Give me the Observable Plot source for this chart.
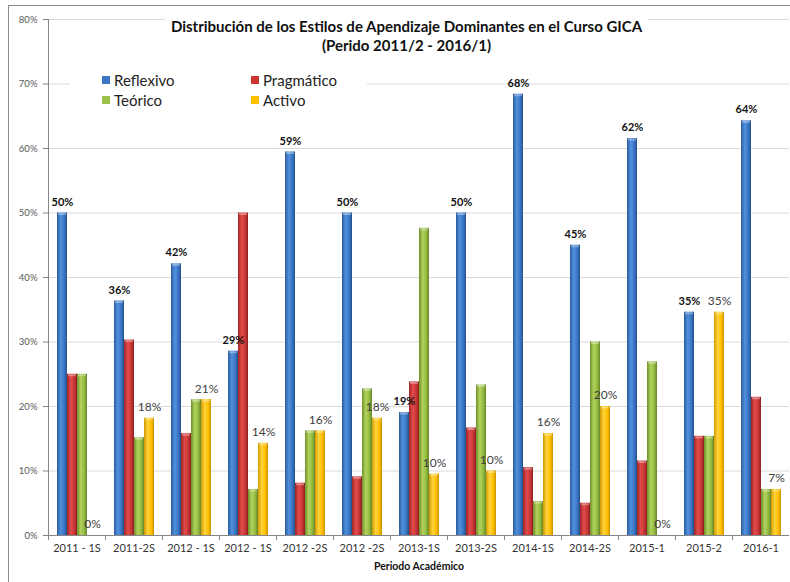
<!DOCTYPE html>
<html>
<head>
<meta charset="utf-8">
<script src="https://cdn.jsdelivr.net/npm/d3@7"></script>
<script src="https://cdn.jsdelivr.net/npm/@observablehq/plot@0.6"></script>
<style>
  body { margin: 0; background: #fff; font-family: Lato, "Noto Sans", sans-serif; }
  #wrap { position: relative; width: 790px; height: 582px; overflow: hidden; }
  #chart { position: absolute; left: 0; top: 0; }
  #border { position: absolute; left: 8px; top: 5px; width: 900px; height: 700px;
            border-top: 1.5px solid #8c8c8c; border-left: 1.5px solid #8c8c8c; }
  #title { position: absolute; left: 165px; top: 17px; width: 483px; background: #fff;
           text-align: center; font-weight: bold; font-size: 15px; line-height: 19px; color: #111; }
  #legend { position: absolute; left: 70px; top: 68px; width: 297px; height: 44px; background: #fff;
            font-size: 15px; color: #222; }
  .item { position: absolute; display: flex; align-items: center; height: 20px; }
  .sw { width: 8px; height: 8px; margin-right: 4px; }
</style>
</head>
<body>
<svg width="0" height="0" style="position:absolute">
  <defs>
    <linearGradient id="gBlue" x1="0" x2="1" y1="0" y2="0">
      <stop offset="0" stop-color="#2a5a9c"/><stop offset="0.38" stop-color="#5291de"/>
      <stop offset="0.72" stop-color="#3a76c4"/><stop offset="1" stop-color="#23508c"/>
    </linearGradient>
    <linearGradient id="gRed" x1="0" x2="1" y1="0" y2="0">
      <stop offset="0" stop-color="#9e2424"/><stop offset="0.38" stop-color="#e24c4c"/>
      <stop offset="0.72" stop-color="#c93636"/><stop offset="1" stop-color="#8c1f1f"/>
    </linearGradient>
    <linearGradient id="gGreen" x1="0" x2="1" y1="0" y2="0">
      <stop offset="0" stop-color="#6f8f2a"/><stop offset="0.38" stop-color="#b2d35e"/>
      <stop offset="0.72" stop-color="#94bb40"/><stop offset="1" stop-color="#66852a"/>
    </linearGradient>
    <linearGradient id="gYellow" x1="0" x2="1" y1="0" y2="0">
      <stop offset="0" stop-color="#d19a00"/><stop offset="0.38" stop-color="#ffd43c"/>
      <stop offset="0.72" stop-color="#ffbf00"/><stop offset="1" stop-color="#c89200"/>
    </linearGradient>
  </defs>
</svg>
<div id="wrap">
  <div id="chart"></div>
  <div id="border"></div>
  <div id="title">Distribución de los Estilos de Apendizaje Dominantes en el Curso GICA<br>(Perido 2011/2 - 2016/1)</div>
  <div id="legend"></div>
</div>
<script>
// ---- data ----
const periods = ["2011 - 1S", "2011-2S", "2012 - 1S", "2012 - 1S", "2012 -2S", "2012 -2S",
                 "2013-1S", "2013-2S", "2014-1S", "2014-2S", "2015-1", "2015-2", "2016-1"];
const seriesNames = ["Reflexivo", "Pragmático", "Teórico", "Activo"];
const reflexivo  = [50, 36.36, 42.11, 28.57, 59.46, 50, 19.05, 50, 68.42, 45, 61.54, 34.62, 64.29];
const pragmatico = [25, 30.30, 15.79, 50, 8.11, 9.09, 23.81, 16.67, 10.53, 5, 11.54, 15.38, 21.43];
const teorico    = [25, 15.15, 21.05, 7.14, 16.22, 22.73, 47.62, 23.33, 5.26, 30, 26.92, 15.38, 7.14];
const activo     = [0, 18.18, 21.05, 14.29, 16.22, 18.18, 9.52, 10, 15.79, 20, 0, 34.62, 7.14];
const yTicks = [0, 10, 20, 30, 40, 50, 60, 70, 80];

// ---- styling ----
const fills = ["url(#gBlue)", "url(#gRed)", "url(#gGreen)", "url(#gYellow)"];
const legendColors = ["#3c78c6", "#cc3434", "#9bc24b", "#ffc000"];

const valuesBySeries = [reflexivo, pragmatico, teorico, activo];
const data = [];
periods.forEach((p, i) => {
  seriesNames.forEach((s, j) => data.push({i, period: p, serie: s, value: valuesBySeries[j][i]}));
});
const refl = data.filter(d => d.serie === "Reflexivo");
const act = data.filter(d => d.serie === "Activo");

const W = 790, H = 582, mT = 19, mB = 47, mL = 48, mR = 1;
const plotH = H - mT - mB;
const font = "Lato, 'Noto Sans', sans-serif";

const chart = Plot.plot({
  width: W, height: H,
  marginTop: mT, marginBottom: mB, marginLeft: mL, marginRight: mR,
  style: {fontFamily: font, background: "transparent"},
  fx: {domain: d3.range(periods.length), padding: 0, axis: null},
  x: {domain: seriesNames, paddingInner: 0, paddingOuter: 0.68, axis: null},
  y: {domain: [0, 80], axis: null},
  color: {domain: seriesNames, range: fills},
  marks: [
    Plot.ruleY(yTicks.filter(d => d > 0), {stroke: "#d9d9d9", strokeWidth: 1}),
    Plot.axisY({ticks: yTicks, tickFormat: d => d + "%", tickSize: 5, tickPadding: 6, label: null,
                fontSize: 9.5, color: "#595959", stroke: "#868686"}),
    Plot.frame({anchor: "left", facetAnchor: "left", stroke: "#868686"}),
    Plot.frame({anchor: "left", insetTop: plotH, insetBottom: -4, stroke: "#868686"}),
    Plot.ruleY([0], {stroke: "#868686"}),
    Plot.barY(data, {fx: "i", x: "serie", y: "value", fill: "serie", inset: 0}),
    Plot.tickY(data.filter(d => d.value > 0), {fx: "i", x: "serie", y: "value", stroke: "#fff",
                strokeOpacity: 0.35, strokeWidth: 2, dy: 1, insetLeft: 1, insetRight: 1}),
    Plot.text(refl, {fx: "i", x: "serie", y: "value", text: d => Math.round(d.value) + "%",
                     dy: -11, fontSize: 11, fontWeight: "bold", fill: "#111"}),
    Plot.text(act, {fx: "i", x: "serie", y: "value", text: d => Math.round(d.value) + "%",
                    dy: -11, fontSize: 12, fill: "#404040"}),
    Plot.axisFx({anchor: "bottom", tickFormat: i => periods[i], tickSize: 0, tickPadding: 9,
                 fontSize: 11, color: "#333", label: null}),
    Plot.axisFx({anchor: "bottom", ticks: [], label: "Periodo Académico", labelAnchor: "center",
                 labelOffset: 34, fontSize: 10.5, fontWeight: "bold", color: "#111"})
  ]
});
document.getElementById("chart").appendChild(chart);

// legend (HTML)
const legend = document.getElementById("legend");
const pos = [[32, 2], [181, 2], [32, 22], [181, 22]];
seriesNames.forEach((s, j) => {
  const it = document.createElement("div");
  it.className = "item";
  it.style.left = pos[j][0] + "px";
  it.style.top = pos[j][1] + "px";
  it.innerHTML = `<div class="sw" style="background:${legendColors[j]}"></div><span>${s}</span>`;
  legend.appendChild(it);
});
</script>
</body>
</html>
